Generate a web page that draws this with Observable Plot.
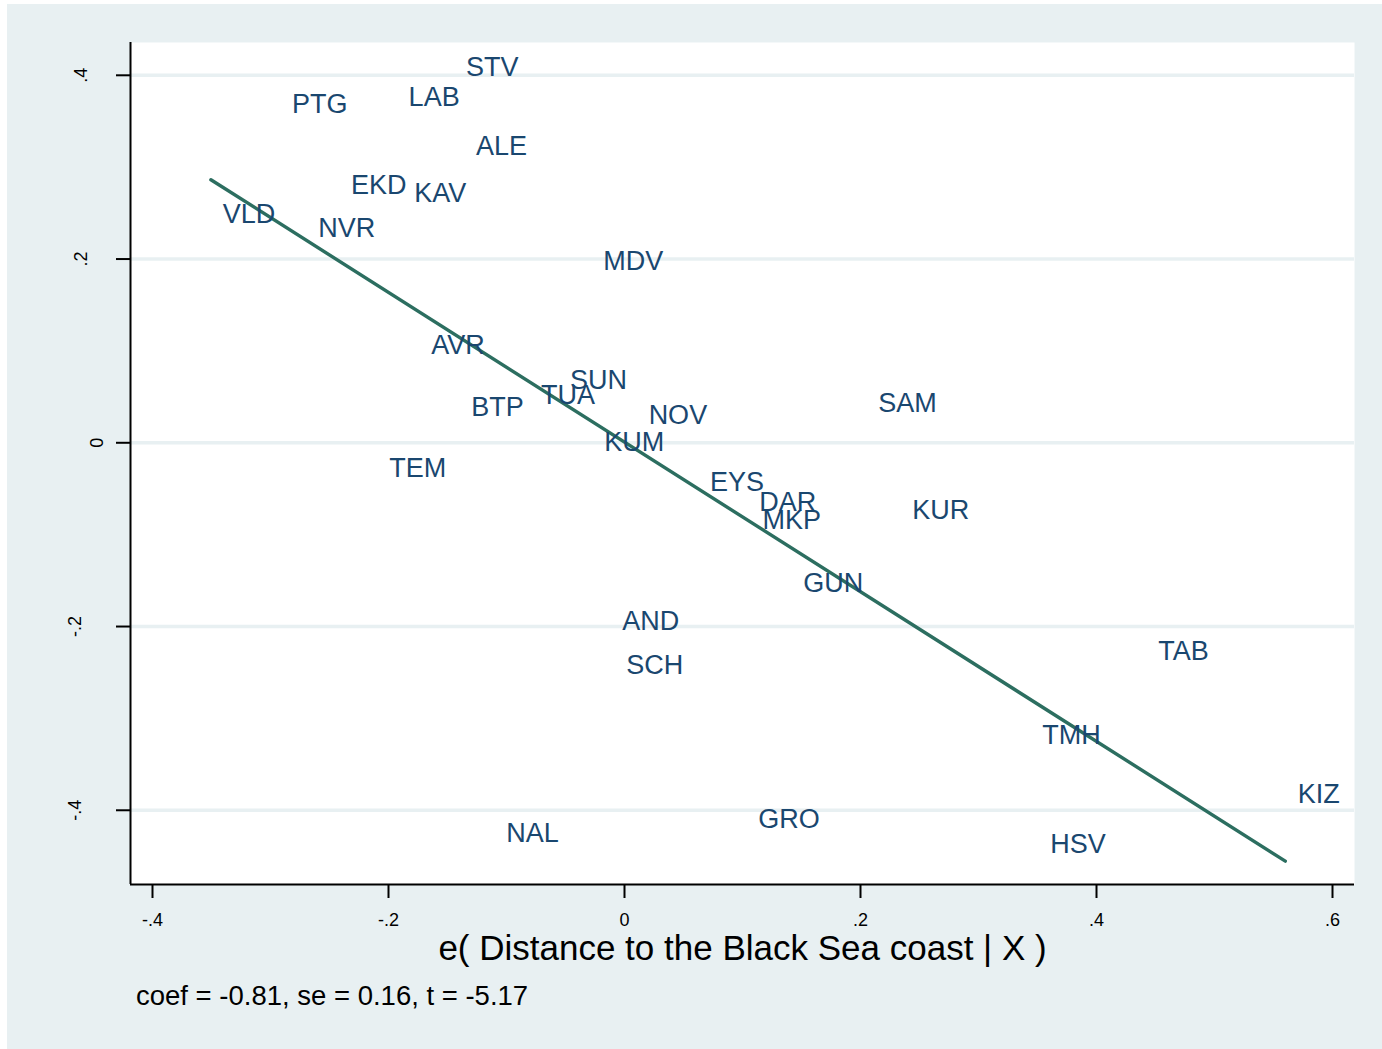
<!DOCTYPE html>
<html><head><meta charset="utf-8">
<script src="https://cdn.jsdelivr.net/npm/d3@7"></script>
<script src="https://cdn.jsdelivr.net/npm/@observablehq/plot@0.6"></script>
<style>
body{margin:0;background:#fff;}
#wrap{position:relative;width:1382px;height:1049px;overflow:hidden;font-family:"Liberation Sans",Arial,sans-serif;}
#bg{position:absolute;left:7px;top:4px;right:0;bottom:0;background:#e8f0f2;}
#chart{position:absolute;left:0;top:0;}
#caption{position:absolute;left:136px;top:982px;font-size:27.5px;line-height:28px;color:#000;white-space:nowrap;}
</style></head>
<body><div id="wrap"><div id="bg"></div><div id="chart"></div><div id="caption"></div></div>
<script>
// Region codes and their added-variable residuals
const codes = ["STV","PTG","LAB","ALE","EKD","KAV","VLD","NVR","MDV","AVR","SUN","TUA","BTP","NOV","SAM","KUM","TEM","EYS","DAR","MKP","KUR","GUN","AND","SCH","TAB","TMH","KIZ","NAL","GRO","HSV"];
const xResid = [-0.1441,-0.2915,-0.1927,-0.1356,-0.2415,-0.1879,-0.3503,-0.2692,-0.0277,-0.1735,-0.0559,-0.0805,-0.1396,0.0107,0.2053,-0.0269,-0.2091,0.0627,0.1045,0.1073,0.2342,0.1418,-0.0116,-0.0082,0.4426,0.3443,0.5607,-0.1099,0.1036,0.3511];
const yResid = [0.4088,0.3685,0.3755,0.3225,0.2797,0.2717,0.2482,0.2338,0.1973,0.1059,0.0678,0.0515,0.0384,0.0297,0.0428,0.0007,-0.0280,-0.0432,-0.0650,-0.0840,-0.0737,-0.1528,-0.1945,-0.2424,-0.2272,-0.3186,-0.3825,-0.4252,-0.4100,-0.4372];
// Fitted line end points
const fitX = [-0.3505, 0.5600];
const fitY = [0.2863, -0.4554];
// Axes
const xTicks = [-0.4,-0.2,0,0.2,0.4,0.6];
const yTicks = [-0.4,-0.2,0,0.2,0.4];
const xDomain = [-0.41864, 0.61864];
const yDomain = [-0.4808, 0.4357];
const xTitle = "e( Distance to the Black Sea coast | X )";
const captionText = "coef = -0.81, se = 0.16, t = -5.17";

const fmt = d => d === 0 ? "0" : (d < 0 ? "-" : "") + String(Math.abs(d)).replace(/^0/, "");
const points = codes.map((c,i) => ({code:c, x:xResid[i], y:yResid[i]}));
const fit = fitX.map((x,i) => ({x, y:fitY[i]}));
const navy = "#1a476f";
const ytext = (filter, dx) => Plot.text(yTicks.filter(filter), {
  x: xDomain[0], y: d => d, text: fmt, rotate: -90, dx,
  fontSize: 18, textAnchor: "middle", lineAnchor: "middle", fill: "black"
});

const chart = Plot.plot({
  width: 1382, height: 975,
  marginLeft: 130, marginRight: 28, marginTop: 42, marginBottom: 91,
  style: {background: "transparent", fontFamily: "Liberation Sans, Arial, sans-serif", color: "black", overflow: "visible"},
  x: {domain: xDomain},
  y: {domain: yDomain},
  marks: [
    Plot.frame({fill: "white", stroke: "none"}),
    Plot.gridY(yTicks, {stroke: "#e8f0f2", strokeOpacity: 1, strokeWidth: 3.5}),
    Plot.line(fit, {x: "x", y: "y", stroke: "#2c6e60", strokeWidth: 3.4}),
    Plot.text(points, {x: "x", y: "y", text: "code", textAnchor: "start", lineAnchor: "middle", dx: 11.5, fontSize: 27, fill: navy}),
    Plot.ruleX([xDomain[0]], {stroke: "black", strokeWidth: 2}),
    Plot.ruleY([yDomain[0]], {stroke: "black", strokeWidth: 2}),
    Plot.axisX({ticks: xTicks, tickFormat: fmt, tickSize: 14, tickPadding: 15, fontSize: 18, label: null, strokeWidth: 2}),
    Plot.axisY({ticks: yTicks, tickFormat: () => "", tickSize: 14, label: null, strokeWidth: 2}),
    ytext(d => d === 0, -33),
    ytext(d => d > 0, -49),
    ytext(d => d < 0, -55),
    Plot.text([xTitle], {frameAnchor: "bottom", dy: 64, text: d => d, fontSize: 35, lineAnchor: "middle", fill: "black"})
  ]
});
document.getElementById("chart").appendChild(chart);
document.getElementById("caption").textContent = captionText;
</script>
</body></html>
